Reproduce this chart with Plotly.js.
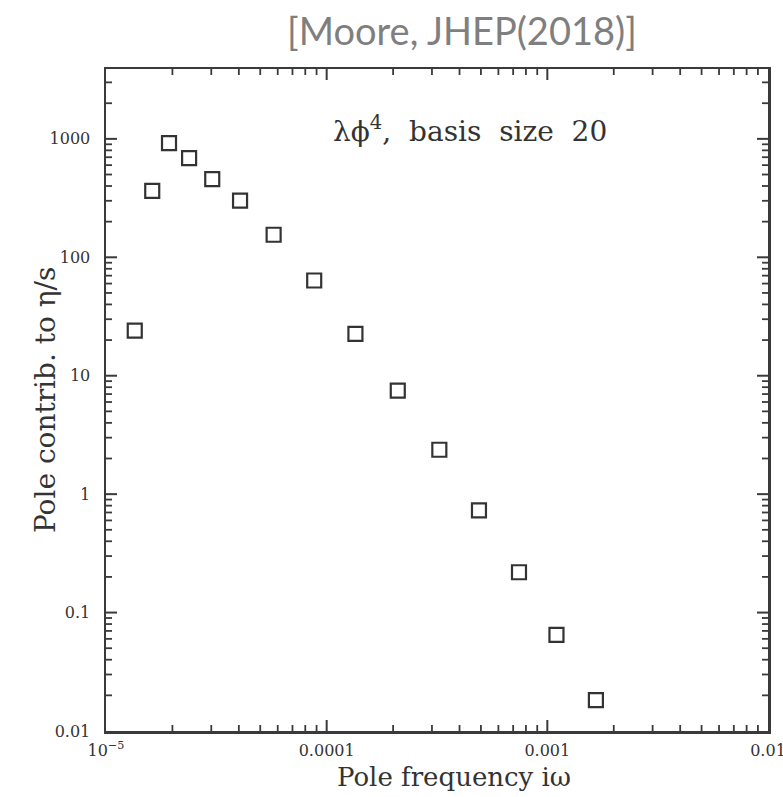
<!DOCTYPE html>
<html>
<head>
<meta charset="utf-8">
<script src="https://cdn.plot.ly/plotly-3.0.1.min.js"></script>
<style>html,body{margin:0;padding:0;background:#fff;}#chart{width:783px;height:797px;}</style>
</head>
<body>
<div id="chart"></div>
<script>
// Pole frequency iω
const poleFreq = [1.35e-5, 1.62e-5, 1.93e-5, 2.38e-5, 3.03e-5, 4.05e-5, 5.75e-5, 8.78e-5,
                  1.35e-4, 2.10e-4, 3.24e-4, 4.90e-4, 7.44e-4, 1.10e-3, 1.66e-3];
// Pole contribution to η/s
const poleContrib = [24, 364, 920, 687, 457, 301, 155, 63.7,
                     22.6, 7.47, 2.37, 0.73, 0.219, 0.0648, 0.0182];

const xTickVals = [1e-5, 1e-4, 1e-3, 1e-2];
const xTickText = ['10<sup>−5</sup>', '0.0001', '0.001', '0.01'];
const yTickVals = [0.01, 0.1, 1, 10, 100, 1000];
const yTickText = ['0.01', '0.1', '1', '10', '100', '1000'];

function minorsFor(decades) {
  const out = [];
  decades.forEach(d => { for (let k = 2; k <= 9; k++) out.push(k * d); });
  return out;
}
const xRange = [-5, -2];
const yRange = [-2, 3.59];
const xMinor = minorsFor([1e-5, 1e-4, 1e-3]);
const yMinor = minorsFor([0.01, 0.1, 1, 10, 100, 1000]).filter(v => Math.log10(v) < yRange[1]);

const W = 783, H = 797;
const M = {l: 106, r: 15, t: 69, b: 66};
const plotW = W - M.l - M.r, plotH = H - M.t - M.b;
const axisCol = '#3a3a3a';
const majorLen = 11, minorLen = 6;

// tick marks on all four sides drawn as line-shaped markers placed by the axes' own log scales
// (a line marker of size s spans 1.4*s pixels)
function xTickTrace(vals, len, width) {
  const yLo = Math.pow(10, yRange[0]), yHi = Math.pow(10, yRange[1]);
  return {
    x: vals.concat(vals), y: vals.map(() => yLo).concat(vals.map(() => yHi)),
    type: 'scatter', mode: 'markers', hoverinfo: 'skip', cliponaxis: true,
    marker: {symbol: 'line-ns', size: 2 * len / 1.4, color: axisCol, line: {color: axisCol, width: width}}
  };
}
function yTickTrace(vals, len, width) {
  // centre each tick half its length inside the frame so it lies fully in the plot
  const half = (xRange[1] - xRange[0]) * (len / 2) / plotW;
  const xLo = Math.pow(10, xRange[0] + half), xHi = Math.pow(10, xRange[1] - half);
  return {
    y: vals.concat(vals), x: vals.map(() => xLo).concat(vals.map(() => xHi)),
    type: 'scatter', mode: 'markers', hoverinfo: 'skip', cliponaxis: false,
    marker: {symbol: 'line-ns', angle: 90, size: len / 1.4, color: axisCol, line: {color: axisCol, width: width}}
  };
}

const tickTraces = [
  xTickTrace(xTickVals.slice(1, -1), majorLen, 2),
  xTickTrace(xMinor, minorLen, 1.8),
  yTickTrace(yTickVals.slice(1), majorLen, 2),
  yTickTrace(yMinor, minorLen, 1.8)
];

const tickFont = {family: 'DejaVu Serif, serif', size: 16, color: '#333'};

const trace = {
  x: poleFreq, y: poleContrib, type: 'scatter', mode: 'markers',
  marker: {symbol: 'square-open', size: 14, color: '#333', line: {width: 2.2, color: '#333'}},
  hoverinfo: 'x+y'
};

const layout = {
  width: W, height: H,
  margin: M,
  paper_bgcolor: '#fff', plot_bgcolor: '#fff',
  showlegend: false,
  title: {text: '[Moore, JHEP(2018)]', x: 0.59, xanchor: 'center', y: 0.96, yanchor: 'middle',
          font: {family: 'Lato, Open Sans, sans-serif', size: 38, color: '#7f7f7f'}},
  xaxis: {
    type: 'log', range: xRange, autorange: false,
    tickmode: 'array', tickvals: xTickVals, ticktext: xTickText,
    ticks: '', showline: true, linecolor: axisCol, linewidth: 2.5, mirror: true,
    showgrid: false, zeroline: false, ticklabeloverflow: 'allow', ticklabelstandoff: 3,
    tickfont: tickFont
  },
  yaxis: {
    type: 'log', range: yRange, autorange: false,
    tickmode: 'array', tickvals: yTickVals, ticktext: yTickText,
    ticks: '', showline: true, linecolor: axisCol, linewidth: 2.5, mirror: true,
    showgrid: false, zeroline: false, ticklabelstandoff: 10,
    tickfont: tickFont
  },
  annotations: [
    {
      text: 'λϕ<sup>4</sup>,  basis  size  20', xref: 'paper', yref: 'paper',
      x: 0.55, y: 0.908, xanchor: 'center', yanchor: 'middle', showarrow: false,
      font: {family: 'DejaVu Serif, serif', size: 28, color: '#333'}
    },
    {
      text: 'Pole frequency iω', xref: 'paper', yref: 'paper',
      x: 0.526, y: -0.07, xanchor: 'center', yanchor: 'middle', showarrow: false,
      font: {family: 'DejaVu Serif, serif', size: 26, color: '#333'}
    },
    {
      text: 'Pole contrib. to η/s', xref: 'paper', yref: 'paper', textangle: -90,
      x: -0.092, y: 0.5, xanchor: 'center', yanchor: 'middle', showarrow: false,
      font: {family: 'DejaVu Serif, serif', size: 28, color: '#333'}
    }
  ]
};

Plotly.newPlot('chart', tickTraces.concat([trace]), layout, {displayModeBar: false, staticPlot: true});
</script>
</body>
</html>
